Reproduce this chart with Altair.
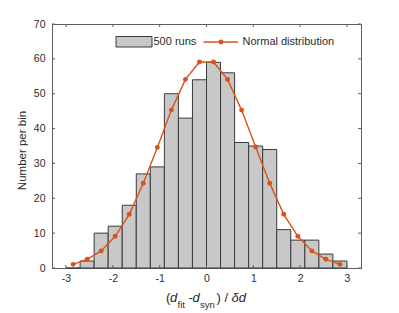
import altair as alt
import pandas as pd

# ---- data ----
bin_left = [-3.0, -2.7, -2.4, -2.1, -1.8, -1.5, -1.2, -0.9, -0.6, -0.3,
            0.0, 0.3, 0.6, 0.9, 1.2, 1.5, 1.8, 2.1, 2.4, 2.7]
bin_right = [-2.7, -2.4, -2.1, -1.8, -1.5, -1.2, -0.9, -0.6, -0.3, 0.0,
             0.3, 0.6, 0.9, 1.2, 1.5, 1.8, 2.1, 2.4, 2.7, 3.0]
counts = [0, 2, 10, 12, 18, 27, 29, 50, 43, 54, 59, 56, 36, 35, 34, 11, 8, 8, 4, 2]

normal_x = [-2.85, -2.55, -2.25, -1.95, -1.65, -1.35, -1.05, -0.75, -0.45, -0.15,
            0.15, 0.45, 0.75, 1.05, 1.35, 1.65, 1.95, 2.25, 2.55, 2.85]
normal_y = [1.05, 2.5, 4.9, 9.1, 15.4, 24.3, 34.6, 45.3, 54.1, 59.1,
            59.1, 54.1, 45.3, 34.7, 24.3, 15.4, 9.1, 4.9, 2.5, 1.05]

x_ticks = [-3, -2, -1, 0, 1, 2, 3]
y_ticks = [0, 10, 20, 30, 40, 50, 60, 70]

legend_labels = ["500 runs", "Normal distribution"]
y_title = "Number per bin"

# ---- styling ----
W, H = 309, 244
FONT = "Liberation Sans"
AX = "#5f5f5f"
BAR_FILL = "#c8c8c8"
BAR_STROKE = "#3a3a3a"
ORANGE = "#D95319"
TXT = "#2b2b2b"

df_bins = pd.DataFrame({"left": bin_left, "right": bin_right, "count": counts})
df_norm = pd.DataFrame({"nx": normal_x, "ny": normal_y})
df_xt = pd.DataFrame({"xt": x_ticks})
df_yt = pd.DataFrame({"yt": y_ticks})
one = pd.DataFrame({"k": [0]})

xscale = alt.Scale(domain=[-3.3, 3.3], nice=False, zero=False)
yscale = alt.Scale(domain=[0, 70], nice=False, zero=False)

xaxis = alt.Axis(values=x_ticks, title=None, tickSize=0, labelPadding=5,
                 grid=False, domainColor=AX, labelFontSize=10.5, labelColor=TXT,
                 labelFont=FONT,
                 labelExpr="datum.value < 0 ? '-' + abs(datum.value) : '' + datum.value")
yaxis = alt.Axis(values=y_ticks, title=y_title, tickSize=0, labelPadding=7,
                 grid=False, domainColor=AX, labelFontSize=10.5, labelColor=TXT,
                 labelFont=FONT, titleFont=FONT, titleFontSize=11.5,
                 titleFontWeight="normal", titleColor=TXT,
                 titleX=-25, titleY=126, titleAngle=-90,
                 titleBaseline="bottom", titleAlign="center")


def X(f):
    return alt.X(f, type="quantitative", scale=xscale, axis=xaxis)


def Y(f):
    return alt.Y(f, type="quantitative", scale=yscale, axis=yaxis)


bars = alt.Chart(df_bins).mark_rect(
    fill=BAR_FILL, stroke=BAR_STROKE, strokeWidth=1
).encode(x=X("left"), x2="right", y=Y("count"), y2=alt.datum(0))

line = alt.Chart(df_norm).mark_line(color=ORANGE, strokeWidth=1.4).encode(
    x=X("nx"), y=Y("ny"))
pts = alt.Chart(df_norm).mark_circle(color=ORANGE, size=24, opacity=1).encode(
    x=X("nx"), y=Y("ny"))

# inward tick marks on all four sides
tb = alt.Chart(df_xt).mark_rule(color=AX, strokeWidth=1).encode(
    x=X("xt"), y=alt.value(H), y2=alt.value(H - 3))
tt = alt.Chart(df_xt).mark_rule(color=AX, strokeWidth=1).encode(
    x=X("xt"), y=alt.value(0), y2=alt.value(3))
tl = alt.Chart(df_yt).mark_rule(color=AX, strokeWidth=1).encode(
    y=Y("yt"), x=alt.value(0), x2=alt.value(3))
tr = alt.Chart(df_yt).mark_rule(color=AX, strokeWidth=1).encode(
    y=Y("yt"), x=alt.value(W), x2=alt.value(W - 3))

# legend (inside the plot, top)
leg_rect = alt.Chart(one).mark_rect(fill=BAR_FILL, stroke=BAR_STROKE, strokeWidth=1).encode(
    x=alt.value(64), x2=alt.value(100), y=alt.value(12.5), y2=alt.value(23))
leg_t1 = alt.Chart(one).mark_text(
    text=legend_labels[0], align="left", baseline="middle", font=FONT,
    fontSize=11, color=TXT).encode(x=alt.value(101.5), y=alt.value(18))
leg_line = alt.Chart(one).mark_rule(color=ORANGE, strokeWidth=1.4).encode(
    x=alt.value(151.5), x2=alt.value(186), y=alt.value(18))
leg_pt = alt.Chart(one).mark_circle(color=ORANGE, size=24, opacity=1).encode(
    x=alt.value(169), y=alt.value(18))
leg_t2 = alt.Chart(one).mark_text(
    text=legend_labels[1], align="left", baseline="middle", font=FONT,
    fontSize=11, color=TXT).encode(x=alt.value(190.5), y=alt.value(18))


# x-axis title: (d_fit - d_syn) / δd  built from pieces
def piece(txt, x, y, size=13, italic=False):
    return alt.Chart(one).mark_text(
        text=txt, align="left", baseline="alphabetic", font=FONT,
        fontSize=size, fontStyle="italic" if italic else "normal", color=TXT
    ).encode(x=alt.value(x), y=alt.value(y))


MB = 278  # main baseline (plot coords)
SB = 284  # subscript baseline
title_parts = [
    piece("(", 114, MB),
    piece("d", 118, MB, italic=True),
    piece("fit", 125.5, SB, size=9.5),
    piece("-", 136.5, MB),
    piece("d", 140.5, MB, italic=True),
    piece("syn", 148, SB, size=9.5),
    piece(")", 164.5, MB),
    piece("/", 172.5, MB),
    piece("δd", 179.5, MB, italic=True),
]

chart = alt.layer(
    bars, line, pts, tb, tt, tl, tr,
    leg_rect, leg_t1, leg_line, leg_pt, leg_t2, *title_parts
).properties(
    width=W, height=H,
    autosize=alt.AutoSizeParams(type="none"),
    padding={"left": 44, "top": 16, "right": 30, "bottom": 45},
    background="white",
).configure_view(stroke=AX, strokeWidth=1)

chart.save("out.html", embed_options={"renderer": "svg", "actions": False})
